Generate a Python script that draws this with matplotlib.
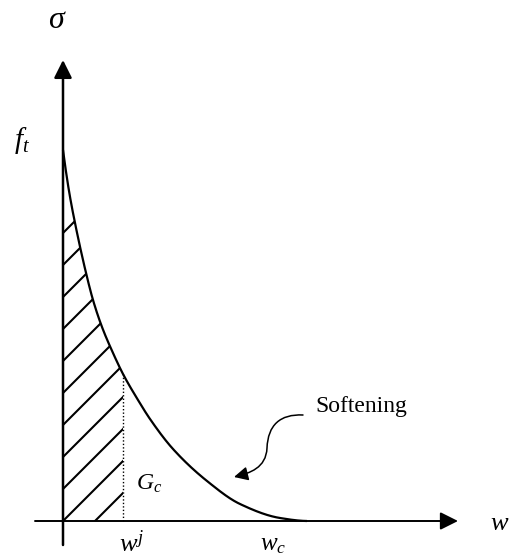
import numpy as np
import matplotlib
matplotlib.use("Agg")
import matplotlib.pyplot as plt
from matplotlib.path import Path
from matplotlib.patches import FancyArrowPatch, Polygon

plt.rcParams['mathtext.fontset'] = 'custom'
plt.rcParams['mathtext.rm'] = 'Liberation Serif'
plt.rcParams['mathtext.it'] = 'Liberation Serif:italic'
plt.rcParams['font.family'] = ['Liberation Serif', 'DejaVu Serif']

# ---- data (units arbitrary) ----
w_pts = [0, 6, 12, 24, 30, 39, 50, 60, 75, 87, 110, 144, 177, 217, 244]
sigma_pts = [371, 330, 298, 244, 221, 194, 168, 147, 121, 102, 72, 40, 17, 3, 0]
f_t = 371
w_j = 60
w_c = 244
hatch_offsets = [288, 256, 224, 192, 160, 128, 96, 64, 32, 0, -32]


# ---- monotone cubic (PCHIP) drawing of the read points, display only ----
def pchip_curve(xs, ys, n=600):
    x = np.asarray(xs, float)
    y = np.asarray(ys, float)
    h = np.diff(x)
    d = np.diff(y) / h
    m = np.zeros_like(x)
    for k in range(1, len(x) - 1):
        if d[k - 1] * d[k] > 0:
            w1 = 2 * h[k] + h[k - 1]
            w2 = h[k] + 2 * h[k - 1]
            m[k] = (w1 + w2) / (w1 / d[k - 1] + w2 / d[k])
    def end(h0, h1, d0, d1):
        v = ((2 * h0 + h1) * d0 - h0 * d1) / (h0 + h1)
        if np.sign(v) != np.sign(d0):
            v = 0.0
        elif np.sign(d0) != np.sign(d1) and abs(v) > abs(3 * d0):
            v = 3 * d0
        return v
    m[0] = end(h[0], h[1], d[0], d[1])
    m[-1] = end(h[-1], h[-2], d[-1], d[-2])
    xq = np.linspace(x[0], x[-1], n)
    idx = np.clip(np.searchsorted(x, xq, side='right') - 1, 0, len(x) - 2)
    t = (xq - x[idx]) / h[idx]
    h00 = 2 * t**3 - 3 * t**2 + 1
    h10 = t**3 - 2 * t**2 + t
    h01 = -2 * t**3 + 3 * t**2
    h11 = t**3 - t**2
    yq = h00 * y[idx] + h10 * h[idx] * m[idx] + h01 * y[idx + 1] + h11 * h[idx] * m[idx + 1]
    return xq, yq


cx, cy = pchip_curve(w_pts, sigma_pts)

fig = plt.figure(figsize=(5.12, 5.58), dpi=100)
ax = fig.add_axes([0, 0, 1, 1])
ax.set_xlim(-63, 449)
ax.set_ylim(-37, 521)
ax.axis('off')

# axes with arrows
arrow_kw = dict(arrowstyle='-|>', mutation_scale=27, lw=1.8, color='black',
                shrinkA=0, shrinkB=0)
ax.annotate('', xy=(0, 461), xytext=(0, -24), arrowprops=arrow_kw)
ax.annotate('', xy=(395, 0), xytext=(-28, 0),
            arrowprops=dict(arrow_kw, lw=1.4))

# softening curve
ax.plot(cx, cy, color='black', lw=1.6, solid_capstyle='butt')

# hatched region below curve up to w_j
yj = np.interp(w_j, cx, cy)
mask = cx <= w_j
poly_pts = np.vstack([[0, 0], np.column_stack([cx[mask], cy[mask]]), [w_j, yj], [w_j, 0]])
clip = Polygon(poly_pts, closed=True, facecolor='none', edgecolor='none')
ax.add_patch(clip)
xx = np.array([-50, 400])
for b in hatch_offsets:
    ln, = ax.plot(xx, xx + b, color='black', lw=1.5)
    ln.set_clip_path(clip)

# dotted line at w_j
ax.plot([w_j, w_j], [0, yj], color='black', lw=1.0, linestyle=(0, (1, 1.5)))

# softening pointer arrow
verts = [(240, 106), (217, 107), (205, 96), (204, 73), (203, 53), (187, 48), (171, 44)]
codes = [Path.MOVETO] + [Path.CURVE4] * 6
arr = FancyArrowPatch(path=Path(verts, codes), arrowstyle='-|>', mutation_scale=21,
                      lw=1.1, color='black')
ax.add_patch(arr)

# labels
ax.text(-6, 501, r'$\sigma$', fontsize=23, ha='center', va='center')
ax.text(-41, 381, r'$f_t$', fontsize=21, ha='center', va='center')
ax.text(86, 37, r'$G_c$', fontsize=17, ha='center', va='center')
ax.text(437, -3, r'$w$', fontsize=19, ha='center', va='center')
ax.text(69, -9, r'$w^j$', fontsize=19, ha='center', va='top')
ax.text(210, -13, r'$w_c$', fontsize=18, ha='center', va='top')
ax.text(252, 109, 'Softening', fontsize=17, ha='left', va='baseline')

fig.savefig('out.png', dpi=100)
